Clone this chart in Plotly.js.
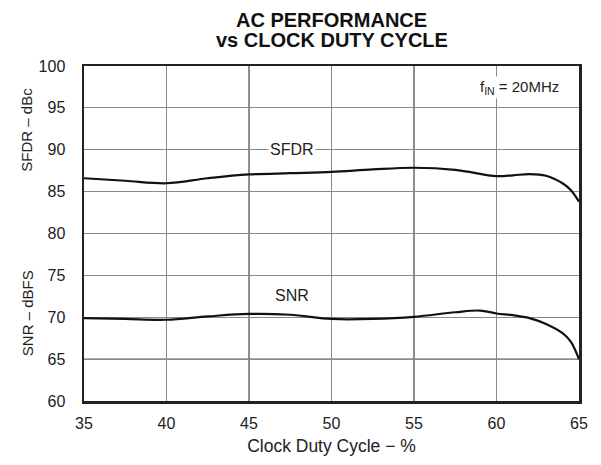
<!DOCTYPE html>
<html><head><meta charset="utf-8">
<script src="https://cdn.plot.ly/plotly-3.0.1.min.js"></script>
<style>html,body{margin:0;padding:0;background:#fff}</style>
</head><body><div id="chart" style="width:601px;height:465px"></div>
<script>
const dutyCycle = [35, 37.5, 40, 42.5, 45, 47.5, 50, 52.5, 55, 57.5, 60, 61, 62, 63, 64, 64.5, 65];
const sfdr = [86.6, 86.3, 86.0, 86.6, 87.05, 87.2, 87.35, 87.65, 87.85, 87.6, 86.85, 86.95, 87.1, 86.9, 86.0, 85.2, 83.8];
const snrX = [35, 37.5, 40, 42.5, 45, 47.5, 50, 52.5, 55, 57.5, 59, 60, 61, 62, 63, 64, 64.5, 65];
const snr = [69.9, 69.8, 69.7, 70.1, 70.4, 70.3, 69.8, 69.8, 70.05, 70.6, 70.8, 70.45, 70.25, 69.9, 69.2, 68.1, 67.1, 65.0];
const xTicks = [35, 40, 45, 50, 55, 60, 65];
const yTicks = [60, 65, 70, 75, 80, 85, 90, 95, 100];
const darkX = [45, 55];
const darkY = [65, 80];
const titleLines = ['AC PERFORMANCE', 'vs CLOCK DUTY CYCLE'];

const fam = 'Liberation Sans, Arial, sans-serif';
const font = {family: fam, color: '#222', size: 15};
const tickFont = {family: fam, color: '#222', size: 16};
const xTitleFont = {family: fam, color: '#222', size: 17.5};
const shapes = [];
darkX.forEach(v => shapes.push({type:'line', xref:'x', yref:'paper', x0:v, x1:v, y0:0, y1:1, line:{color:'#222', width:1}, layer:'below'}));
darkY.forEach(v => shapes.push({type:'line', xref:'paper', yref:'y', x0:0, x1:1, y0:v, y1:v, line:{color:'#222', width:1}, layer:'below'}));

const traces = [
  {x: dutyCycle, y: sfdr, mode:'lines', line:{color:'#111', width:2.2, shape:'spline', smoothing:1}, hoverinfo:'skip'},
  {x: snrX, y: snr, mode:'lines', line:{color:'#111', width:2.2, shape:'spline', smoothing:1}, hoverinfo:'skip'}
];

const layout = {
  width: 601, height: 465,
  margin: {l: 84, r: 22, t: 66, b: 64},
  paper_bgcolor: '#fff', plot_bgcolor: '#fff',
  showlegend: false,
  font: font,
  xaxis: {range: [35, 65], tickvals: xTicks, ticks: '', showgrid: true, gridcolor: '#8a8a8a', gridwidth: 1,
          zeroline: false, showline: true, linecolor: '#222', linewidth: 2.5, mirror: true,
          tickfont: tickFont, ticklabelstandoff: 6,
          title: {text: 'Clock Duty Cycle − %', font: xTitleFont, standoff: 9}},
  yaxis: {range: [60, 100], tickvals: yTicks, ticks: '', showgrid: true, gridcolor: '#8a8a8a', gridwidth: 1,
          zeroline: false, showline: true, linecolor: '#222', linewidth: 2.5, mirror: true,
          tickfont: tickFont, ticklabelstandoff: 13},
  shapes: shapes,
  annotations: [
    {text: '<b>' + titleLines[0] + '</b>', xref:'paper', yref:'paper', x: 0.5, y: 1.137, showarrow:false,
     font: {family: fam, size: 20, color: '#111'}, xanchor:'center', yanchor:'middle'},
    {text: '<b>' + titleLines[1] + '</b>', xref:'paper', yref:'paper', x: 0.5, y: 1.078, showarrow:false,
     font: {family: fam, size: 20, color: '#111'}, xanchor:'center', yanchor:'middle'},
    {text: 'SFDR – dBc', xref:'paper', yref:'y', x: -0.115, y: 92.4, textangle: -90, showarrow:false, font: font, xanchor:'center', yanchor:'middle'},
    {text: 'SNR – dBFS', xref:'paper', yref:'y', x: -0.115, y: 70.5, textangle: -90, showarrow:false, font: font, xanchor:'center', yanchor:'middle'},
    {text: 'SFDR', x: 47.6, y: 90, showarrow:false, font: tickFont, bgcolor:'#fff', xanchor:'center', yanchor:'middle'},
    {text: 'SNR', x: 47.6, y: 72.6, showarrow:false, font: tickFont, xanchor:'center', yanchor:'middle'},
    {text: 'f<sub>IN</sub> = 20MHz', x: 63.9, y: 97.4, showarrow:false, font: font, bgcolor:'#fff', xanchor:'right', yanchor:'middle'}
  ]
};
Plotly.newPlot('chart', traces, layout, {staticPlot: true, displayModeBar: false});
</script></body></html>
